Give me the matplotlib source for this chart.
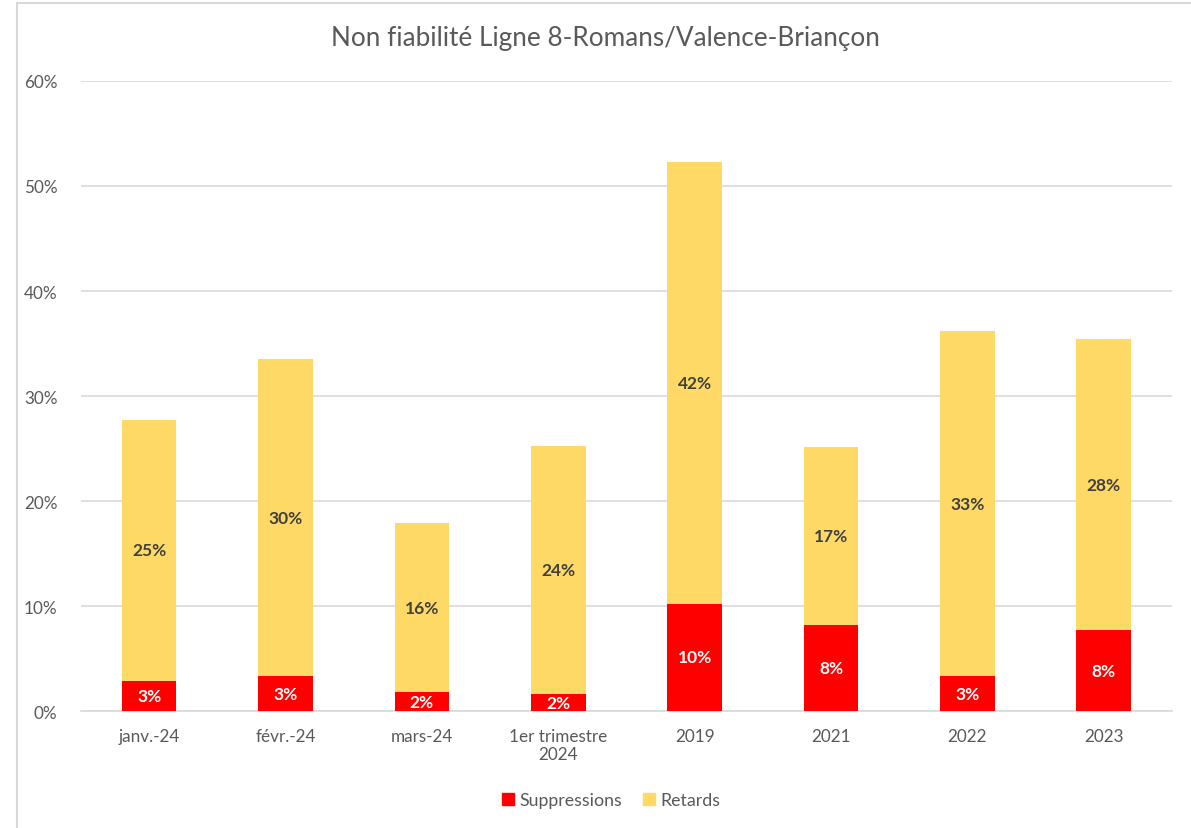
import numpy as np
import matplotlib
matplotlib.use("Agg")
import matplotlib.pyplot as plt
from matplotlib.patches import Rectangle, Patch
from matplotlib.ticker import FuncFormatter

plt.rcParams['font.family'] = ['Lato', 'DejaVu Sans']

categories = ["janv.-24", "févr.-24", "mars-24", "1er trimestre\n2024",
              "2019", "2021", "2022", "2023"]
suppressions = [0.029, 0.033, 0.018, 0.016, 0.102, 0.082, 0.033, 0.077]
retards = [0.248, 0.302, 0.161, 0.236, 0.421, 0.169, 0.329, 0.277]

red = "#FF0000"
yellow = "#FFD966"
grey_txt = "#595959"

fig = plt.figure(figsize=(11.91, 8.29), dpi=100)
ax = fig.add_axes([0.068, 0.1411, 0.916, 0.76])

x = np.arange(len(categories))
w = 0.4
ax.bar(x, suppressions, w, color=red, label="Suppressions", zorder=3)
ax.bar(x, retards, w, bottom=suppressions, color=yellow, label="Retards", zorder=3)

for i in range(len(x)):
    ax.text(x[i], suppressions[i] / 2, f"{suppressions[i]*100:.0f}%", ha="center", va="center",
            color="white", fontsize=12.5, fontweight="bold", zorder=4)
    ax.text(x[i], suppressions[i] + retards[i] / 2, f"{retards[i]*100:.0f}%", ha="center",
            va="center", color="#404040", fontsize=12.5, fontweight="bold", zorder=4)

ax.set_xlim(-0.5, len(x) - 0.5)
ax.set_ylim(0, 0.6)
ax.set_yticks(np.arange(0, 0.61, 0.1))
ax.yaxis.set_major_formatter(FuncFormatter(lambda v, p: f"{v*100:.0f}%"))
ax.set_xticks(x)
ax.set_xticklabels(categories)
ax.grid(axis="y", color="#D9D9D9", linewidth=1.2, zorder=0)
for s in ["top", "right", "left"]:
    ax.spines[s].set_visible(False)
ax.spines["bottom"].set_color("#D9D9D9")
ax.spines["bottom"].set_linewidth(1.2)
ax.tick_params(axis="both", length=0, colors=grey_txt, labelsize=12.3)
ax.tick_params(axis="x", pad=12)
ax.tick_params(axis="y", pad=17)

fig.text(0.508, 0.953, "Non fiabilité Ligne 8-Romans/Valence-Briançon", ha="center", va="center",
         fontsize=18.8, color=grey_txt)

handles = [Patch(color=red, label="Suppressions"), Patch(color=yellow, label="Retards")]
fig.legend(handles=handles, loc="center", bbox_to_anchor=(0.513, 0.034), ncol=2, frameon=False,
           fontsize=12.8, labelcolor=grey_txt, handlelength=0.65, handleheight=0.65,
           handletextpad=0.3, columnspacing=1.2)

fig.add_artist(Rectangle((17 / 1191, -0.05), 1.2, 0.05 + (829 - 4) / 829, transform=fig.transFigure,
                         fill=False, edgecolor="#D9D9D9", linewidth=1.5))

fig.savefig("out.png", dpi=100)
